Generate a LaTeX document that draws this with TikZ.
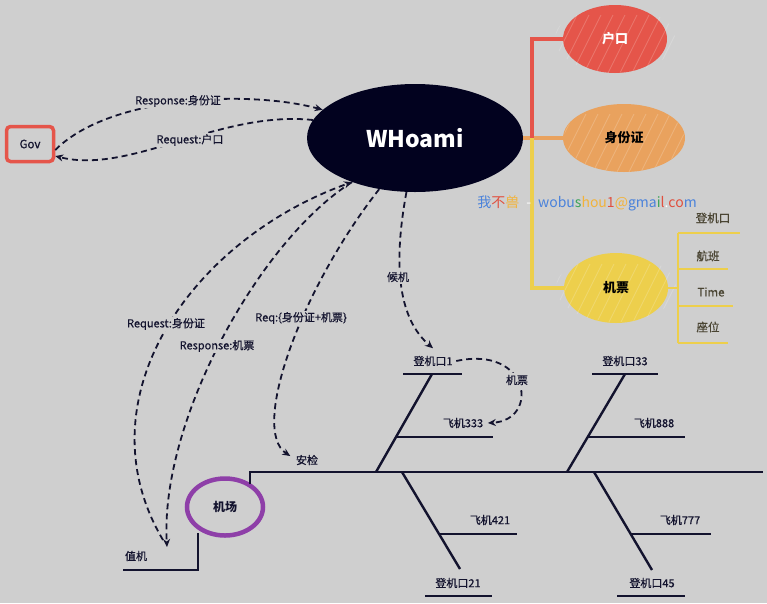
\documentclass[tikz,border=0pt]{standalone}
\usepackage{fontspec}
\setmainfont{Noto Sans CJK SC}
\newfontfamily\lblfont{Noto Sans CJK SC}[FakeBold=0.7]
\usetikzlibrary{shapes.geometric,arrows.meta}
\definecolor{bg}{HTML}{CFCFCF}
\definecolor{ink}{HTML}{13132E}
\definecolor{navy}{HTML}{02021F}
\definecolor{hred}{HTML}{E5554A}
\definecolor{horange}{HTML}{E9A25E}
\definecolor{hyellow}{HTML}{EDCF4C}
\definecolor{olive}{HTML}{4A4533}
\definecolor{gblue}{HTML}{4A82DB}
\definecolor{gred}{HTML}{E0503F}
\definecolor{gyellow}{HTML}{F2B33A}
\definecolor{ggreen}{HTML}{3DA35A}
\definecolor{purp}{HTML}{8E3FA8}
\begin{document}
\begin{tikzpicture}[x=1pt,y=-1pt,
  lbl/.style={font=\lblfont\fontsize{11}{13}\selectfont, text=ink, inner sep=1.5pt},
  flbl/.style={lbl, fill=bg},
  tlbl/.style={font=\lblfont\fontsize{11.5}{13}\selectfont, text=olive, inner sep=1.5pt},
  darrow/.style={draw=ink, line width=1.8pt, dash pattern=on 6pt off 4pt, -{Stealth[length=8pt,width=7pt]}},
  bone/.style={draw=ink, line width=2.4pt},
  topic/.style={ellipse, inner sep=0pt, outer sep=0pt, font=\fontsize{13}{15}\bfseries},
  hatch/.style={draw=white, opacity=0.2, line width=0.8pt},
  mred/.style={draw=hred, line width=3.5pt},
  morange/.style={draw=horange, line width=3.5pt},
  myellow/.style={draw=hyellow, line width=3.5pt},
  tline/.style={draw=hyellow, line width=2.4pt}
]
\fill[bg] (0,0) rectangle (767,603);
\useasboundingbox (0,0) rectangle (767,603);

% central node
\node[ellipse, fill=navy, minimum width=216pt, minimum height=108pt, inner sep=0pt, text=white,
      font=\fontsize{23}{26}\bfseries] (who) at (415,138) {WHoami};

% Gov
\node[draw=hred, line width=3.5pt, rounded corners=4pt, minimum width=47pt, minimum height=35pt,
      font=\lblfont\fontsize{11.5}{13}\selectfont, text=ink] (gov) at (30,144) {Gov};

% mind map branches
\node[topic, fill=hred, minimum width=104pt, minimum height=68pt] (hukou) at (615,39) {};
\node[topic, fill=horange, minimum width=122pt, minimum height=68pt] (sfz) at (624,138) {};
\node[topic, fill=hyellow, minimum width=104pt, minimum height=70pt] (jp) at (616,288) {};
\foreach \n in {hukou,sfz,jp}{
  \begin{scope}
    \clip (\n.center) ellipse [x radius=60pt, y radius=34pt];
    \foreach \k in {-80,-68,...,80}
      \draw[hatch] ([xshift=\k pt, yshift=-36pt]\n.center) -- ++(30pt,60pt);
  \end{scope}
}
\node[topic, text=white] at (hukou) {户口};
\node[topic, text=black] at (sfz) {身份证};
\node[topic, text=black] at (jp) {机票};
\coordinate (mj) at (532,138);
\coordinate (tj) at (678,288);

\draw[morange] (who.east) -- (sfz.west);
\draw[mred] (hukou.west) -| (mj);
\draw[myellow] (mj) |- (jp.west);
\draw[tline] (jp.east) -- (tj);
\draw[tline] (678,233) -- (678,343);
\draw[tline] (678,233) -- (740,233);
\draw[tline] (678,269) -- (728,269);
\draw[tline] (678,306) -- (733,306);
\draw[tline] (678,343) -- (728,343);
\node[tlbl] (t1) at (713,218) {登机口};
\node[tlbl] (t2) at (708,256) {航班};
\node[tlbl] (t3) at (711,292) {Time};
\node[tlbl] (t4) at (708,327) {座位};

% watermark
\node[font=\fontsize{14}{16}\selectfont, inner sep=0pt] (mail) at (587,203)
 {\textcolor{gblue}{我}\textcolor{gred}{不}\textcolor{gyellow}{兽}\enspace\textcolor{white}{-}\enspace\textcolor{gblue}{wobu}\textcolor{ggreen}{s}\textcolor{gyellow}{hou}\textcolor{gred}{1}\textcolor{gyellow}{@}\textcolor{gblue}{gma}\textcolor{ggreen}{i}\textcolor{gred}{l}\textcolor{white}{.}\textcolor{gred}{co}\textcolor{gblue}{m}};

% fishbone
\node[draw=purp, line width=4.5pt, ellipse, minimum width=76pt, minimum height=57pt, inner sep=0pt,
      font=\fontsize{12}{14}\bfseries, text=ink] (jc) at (225,507) {机场};
\node[lbl] (zj) at (136,556) {值机};
\node[lbl] (aj) at (307,460) {安检};
\coordinate (zjin) at (167,547);
\draw[bone] (123,570) -- (198,570) -- (198,533);
\draw[bone] (250,484) -- (250,472) -- (763,472);

% upper bone 1
\draw[bone] (376,472) -- (432,374);
\draw[bone] (403,374) -- (462,374);
\draw[bone] (396,437) -- (493,437);
\node[lbl] (dj1) at (433,361) {登机口1};
\node[lbl] (fj333) at (463,423) {飞机333};
% upper bone 2
\draw[bone] (567,472) -- (625,374);
\draw[bone] (592,374) -- (658,374);
\draw[bone] (588,437) -- (685,437);
\node[lbl] (dj33) at (625,361) {登机口33};
\node[lbl] (fj888) at (654,423) {飞机888};
% lower bone 1
\draw[bone] (402,472) -- (460,569);
\draw[bone] (439,534) -- (517,534);
\draw[bone] (425,596) -- (492,596);
\node[lbl] (fj421) at (490,520) {飞机421};
\node[lbl] (dj21) at (458,583) {登机口21};
% lower bone 2
\draw[bone] (594,472) -- (652,570);
\draw[bone] (631,534) -- (711,534);
\draw[bone] (617,596) -- (685,596);
\node[lbl] (fj777) at (680,520) {飞机777};
\node[lbl] (dj45) at (652,583) {登机口45};

% dashed flows
\draw[darrow] ([yshift=-6pt]gov.east) .. controls (110,95) and (250,90) .. (who.163);
\draw[darrow] (who.170) .. controls (220,110) and (130,175) .. ([yshift=-12pt]gov.east);
\draw[darrow] (163,540) .. controls (80,400) and (190,240) .. (who.215);
\draw[darrow] (who.215) .. controls (260,240) and (160,420) .. (zjin);
\draw[darrow] (who.235) .. controls (300,290) and (250,430) .. ([xshift=-4pt,yshift=4pt]aj.west);
\draw[darrow] (who.261) .. controls (392,270) and (400,320) .. ([yshift=6pt]dj1.north);
\draw[darrow] ([xshift=2pt]dj1.east) .. controls (530,345) and (540,420) .. ([xshift=3pt]fj333.east);

% flow labels
\node[flbl] (l1) at (178,101) {Response:身份证};
\node[flbl] (l2) at (190,140) {Request:户口};
\node[flbl] (l3) at (166,324) {Request:身份证};
\node[flbl] (l4) at (217,346) {Response:机票};
\node[flbl] (l5) at (301,318) {Req:\{身份证+机票\}};
\node[flbl] (l6) at (398,277) {候机};
\node[flbl] (l7) at (517,380) {机票};
\end{tikzpicture}
\end{document}
